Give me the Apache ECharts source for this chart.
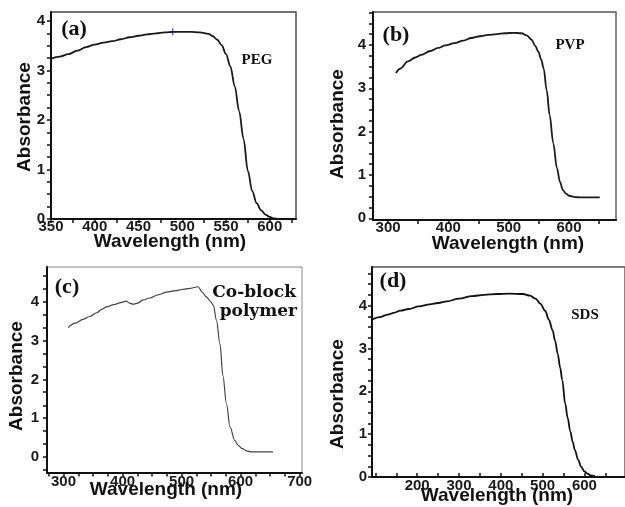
<!DOCTYPE html>
<html><head><meta charset="utf-8">
<script src="https://cdn.jsdelivr.net/npm/echarts@6/dist/echarts.min.js"></script>
<style>html,body{margin:0;padding:0;background:#fff}#c{width:625px;height:507px}</style>
</head><body><div id="c"></div>
<script>
// ---------- data ----------
// (a) PEG
const pegWavelength = [350,360,370,380,390,400,410,420,430,440,450,460,470,480,490,500,510,520,530,535,540,545,550,555,560,565,570,575,580,585,590,595,600,605,610];
const pegAbsorbance = [3.24,3.28,3.33,3.40,3.47,3.52,3.56,3.59,3.63,3.67,3.70,3.73,3.75,3.77,3.78,3.78,3.78,3.77,3.74,3.69,3.62,3.51,3.33,3.08,2.68,2.18,1.62,0.97,0.56,0.32,0.18,0.09,0.04,0.01,0.0];
const pegMarker = [[489, 3.78]];
// (b) PVP
const pvpWavelength = [313,320,333,345,355,370,383,395,410,425,438,452,466,480,494,508,521,530,538,544,549,554,558,563,568,574,580,585,590,595,600,610,620,651];
const pvpAbsorbance = [3.35,3.45,3.62,3.71,3.77,3.86,3.93,3.99,4.04,4.10,4.16,4.20,4.23,4.25,4.27,4.28,4.27,4.22,4.12,3.98,3.85,3.66,3.46,2.96,2.38,1.73,1.16,0.84,0.65,0.57,0.52,0.49,0.48,0.48];
// (c) Co-block polymer
const cbpWavelength = [308,320,333,345,356,365,373,385,397,406,412,418,424,435,446,460,475,490,500,515,528,535,542,548,554,559,565,570,576,582,590,596,602,610,619,655];
const cbpAbsorbance = [3.34,3.45,3.55,3.63,3.72,3.81,3.87,3.93,3.98,4.02,3.97,3.94,3.96,4.05,4.10,4.18,4.25,4.29,4.32,4.35,4.39,4.25,4.13,4.03,3.91,3.53,2.92,2.10,1.38,0.78,0.43,0.30,0.22,0.16,0.13,0.13];
// (d) SDS
const sdsWavelength = [92,110,130,144,160,180,204,230,250,271,300,331,360,391,420,453,470,483,495,506,515,524,530,536,542,547,554,560,566,572,577,585,592,600,607,615,625];
const sdsAbsorbance = [3.67,3.73,3.79,3.83,3.88,3.92,3.98,4.03,4.06,4.10,4.16,4.22,4.25,4.27,4.28,4.27,4.23,4.16,4.04,3.88,3.67,3.42,3.17,2.88,2.55,2.26,1.71,1.38,1.07,0.82,0.63,0.40,0.24,0.13,0.08,0.04,0.02];

// tick values
const pegXTicks = [350,400,450,500,550,600];
const pegXMinor = [375,425,475,525,575,625];
const pegYTicks = [0,1,2,3,4];
const pegYMinor = [0.25,0.5,0.75,1.25,1.5,1.75,2.25,2.5,2.75,3.25,3.5,3.75];
const pvpXTicks = [300,400,500,600];
const pvpXMinor = [350,450,550,650];
const pvpYTicks = [0,1,2,3,4];
const pvpYMinor = [0.25,0.5,0.75,1.25,1.5,1.75,2.25,2.5,2.75,3.25,3.5,3.75,4.25,4.5,4.75];
const cbpXTicks = [300,400,500,600,700];
const cbpXMinor = [275,325,350,375,425,450,475,525,550,575,625,650,675];
const cbpYTicks = [0,1,2,3,4];
const cbpYMinor = [-0.33,0.33,0.67,1.33,1.67,2.33,2.67,3.33,3.67,4.33,4.67];
const sdsXTicks = [200,300,400,500,600];
const sdsXMinor = [100,150,250,350,450,550,650];
const sdsYTicks = [0,1,2,3,4];
const sdsYMinor = [0.25,0.5,0.75,1.25,1.5,1.75,2.25,2.5,2.75,3.25,3.5,3.75,4.25,4.5,4.75];

const zip = (a, b) => a.map((v, i) => [v, b[i]]);

const panels = [
  {grid:{left:51, top:12, width:245, height:207}, border:'#444', bw:1.4,
   x:[350,630], y:[0,4.18], xT:pegXTicks, xM:pegXMinor, yT:pegYTicks, yM:pegYMinor,
   xInside:false, xMargin:0, yMargin:6, data:zip(pegWavelength,pegAbsorbance), lc:'#1a1a1a', lw:1.8},
  {grid:{left:373, top:12, width:243, height:208}, border:'#555', bw:1.4,
   x:[275,678], y:[-0.04,4.76], xT:pvpXTicks, xM:pvpXMinor, yT:pvpYTicks, yM:pvpYMinor,
   xInside:false, xMargin:0, yMargin:7, data:zip(pvpWavelength,pvpAbsorbance), lc:'#1a1a1a', lw:1.8},
  {grid:{left:47, top:267, width:255, height:205.5}, border:'#8a8a8a', bw:1,
   x:[272,704], y:[-0.4,4.9], xT:cbpXTicks, xM:cbpXMinor, yT:cbpYTicks, yM:cbpYMinor,
   xInside:false, xMargin:2, yMargin:8, data:zip(cbpWavelength,cbpAbsorbance), lc:'#444', lw:1.2},
  {grid:{left:372, top:267, width:270, height:210}, border:'#555', bw:1.4,
   x:[92,697], y:[0,4.9], xT:sdsXTicks, xM:sdsXMinor, yT:sdsYTicks, yM:sdsYMinor,
   xInside:true, xMargin:1, yMargin:5, data:zip(sdsWavelength,sdsAbsorbance), lc:'#111', lw:1.8}
];

const tickFont = {fontFamily:'Liberation Sans', fontWeight:'bold', fontSize:15, color:'#1a1a1a'};
const grids = [], xAxes = [], yAxes = [], series = [];
panels.forEach((p, gi) => {
  grids.push(Object.assign({show:true, backgroundColor:'#fff', borderColor:p.border, borderWidth:p.bw, containLabel:false}, p.grid));
  xAxes.push({type:'value', gridIndex:gi, min:p.x[0], max:p.x[1], position:'bottom',
    axisLine:{show:true, onZero:false, lineStyle:{color:'#111', width:2}},
    axisTick:{show:true, inside:p.xInside, length:4, customValues:p.xT.concat(p.xM), lineStyle:{color:'#111', width:1.5}},
    axisLabel:Object.assign({show:true, margin:p.xMargin, customValues:p.xT}, tickFont),
    splitLine:{show:false}});
  yAxes.push({type:'value', gridIndex:gi, min:p.y[0], max:p.y[1], position:'left',
    axisLine:{show:true, onZero:false, lineStyle:{color:'#111', width:2}},
    axisTick:{show:true, inside:false, length:4, customValues:p.yT.concat(p.yM), lineStyle:{color:'#111', width:1.5}},
    axisLabel:Object.assign({show:true, margin:p.yMargin + 0, customValues:p.yT}, tickFont),
    splitLine:{show:false}});
  series.push({type:'line', xAxisIndex:gi, yAxisIndex:gi, data:p.data, showSymbol:false,
    smooth:0.35, smoothMonotone:'x', lineStyle:{color:p.lc, width:p.lw}, animation:false});
});
series.push({type:'scatter', xAxisIndex:0, yAxisIndex:0, data:pegMarker,
  symbol:'path://M4,0H6V4H10V6H6V10H4V6H0V4H4Z', symbolSize:7, itemStyle:{color:'#2a3cc8'}, animation:false});

function txt(t, x, y, font, rot, align) {
  return {type:'text', x:x, y:y, rotation:rot || 0, z:100,
    style:{text:t, font:font, fill:'#111', align:align||'center', verticalAlign:'middle',
           textAlign:align||'center', textVerticalAlign:'middle'}};
}
const nameFont = 'bold 19px "Liberation Sans"';
const panelFont = 'bold 22px "Liberation Serif"';
const tagFont = 'bold 15px "Liberation Serif"';
const cbFont = 'bold 17px "DejaVu Serif"';
const R = Math.PI / 2;
const graphic = [
  txt('(a)', 74, 29, panelFont), txt('PEG', 257, 60, tagFont),
  txt('(b)', 396, 35, panelFont), txt('PVP', 570, 45, tagFont),
  txt('(c)', 67, 287, panelFont), txt('Co-block', 296, 293, cbFont, 0, 'right'), txt('polymer', 297, 312, cbFont, 0, 'right'),
  txt('(d)', 393, 281, panelFont), txt('SDS', 585, 315, tagFont),
  txt('Absorbance', 25, 117, nameFont, R), txt('Wavelength (nm)', 170, 242, nameFont),
  txt('Absorbance', 338, 124, nameFont, R), txt('Wavelength (nm)', 508, 244, nameFont),
  txt('Absorbance', 17, 376, nameFont, R), txt('Wavelength (nm)', 166, 490, nameFont),
  txt('Absorbance', 338, 394, nameFont, R), txt('Wavelength (nm)', 497, 496, nameFont)
];

const chart = echarts.init(document.getElementById('c'), null, {renderer:'canvas'});
chart.setOption({animation:false, backgroundColor:'#fff', grid:grids, xAxis:xAxes, yAxis:yAxes, series:series, graphic:graphic});
</script></body></html>
